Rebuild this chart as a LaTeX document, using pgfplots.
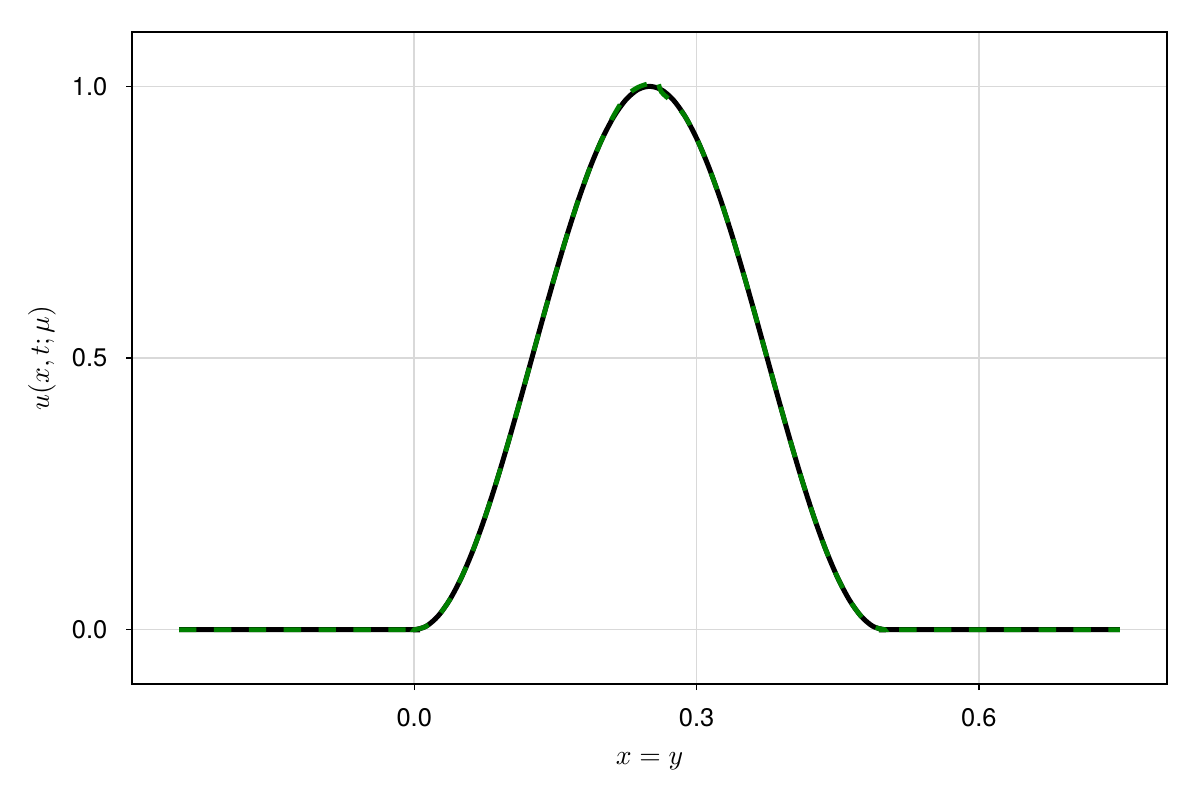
\documentclass[border=0pt]{standalone}
\usepackage{fontspec}
\setmainfont{TeX Gyre Heros}
\usepackage{pgfplots}
\pgfplotsset{compat=1.18}
\definecolor{mkgreen}{RGB}{0,128,0}
\begin{document}
\fontsize{9.2}{11}\selectfont
\begin{tikzpicture}
\path[use as bounding box] (-0.66in,-0.58in) rectangle (5.34in,3.42in);
\begin{axis}[
  at={(0,0)}, anchor=south west,
  scale only axis, width=5.175in, height=3.26in,
  xmin=-0.3, xmax=0.8, ymin=-0.1, ymax=1.1,
  xtick={0,0.3,0.6}, ytick={0,0.5,1},
  /pgf/number format/assume math mode=true,
  xticklabel style={/pgf/number format/fixed,/pgf/number format/fixed zerofill,/pgf/number format/precision=1, yshift=-3.5pt},
  yticklabel style={/pgf/number format/fixed,/pgf/number format/fixed zerofill,/pgf/number format/precision=1, xshift=-3.5pt},
  tick align=outside, major tick length=0.03in,
  tick style={black, line width=0.5pt},
  xtick pos=bottom, ytick pos=left,
  grid=major, grid style={line width=0.6pt, black!15},
  axis line style={line width=0.6pt},
  xlabel={$x = y$}, ylabel={$u(x,t;\mu)$},
  label style={font=\fontsize{10}{12}\selectfont},
  xlabel style={yshift=-3pt},
  ylabel style={yshift=-0.5pt},
  every tick label/.append style={font=\fontsize{9.2}{11}\selectfont},
]
\addplot[black, line width=1.8pt, smooth, tension=0.5] coordinates {
(-0.25,0) (-0.0125,0) (0,0)
(0.0125,0.006156) (0.025,0.024472) (0.0375,0.054497) (0.05,0.095492)
(0.0625,0.146447) (0.075,0.206107) (0.0875,0.273005) (0.1,0.345492)
(0.1125,0.421783) (0.125,0.5) (0.1375,0.578217) (0.15,0.654508)
(0.1625,0.726995) (0.175,0.793893) (0.1875,0.853553) (0.2,0.904508)
(0.2125,0.945503) (0.225,0.975528) (0.2375,0.993844) (0.25,1)
(0.2625,0.993844) (0.275,0.975528) (0.2875,0.945503) (0.3,0.904508)
(0.3125,0.853553) (0.325,0.793893) (0.3375,0.726995) (0.35,0.654508)
(0.3625,0.578217) (0.375,0.5) (0.3875,0.421783) (0.4,0.345492)
(0.4125,0.273005) (0.425,0.206107) (0.4375,0.146447) (0.45,0.095492)
(0.4625,0.054497) (0.475,0.024472) (0.4875,0.006156) (0.5,0) (0.5125,0)
(0.75,0)
};
\addplot[mkgreen, line width=1.7pt, dash pattern=on 6.3pt off 6.3pt, smooth, tension=0.5] coordinates {
(-0.25,0) (-0.0125,0) (0,0)
(0.0125,0.006156) (0.025,0.024472) (0.0375,0.054497) (0.05,0.095492)
(0.0625,0.146447) (0.075,0.206107) (0.0875,0.273005) (0.1,0.345492)
(0.1125,0.421783) (0.125,0.5) (0.1375,0.578217) (0.15,0.654508)
(0.1625,0.726995) (0.175,0.793893) (0.1875,0.853553) (0.2,0.904508)
(0.2125,0.948) (0.225,0.982) (0.2375,0.998) (0.25,1.006)
(0.2575,1.014) (0.2625,0.990) (0.275,0.970) (0.2875,0.945503) (0.3,0.904508)
(0.3125,0.853553) (0.325,0.793893) (0.3375,0.726995) (0.35,0.654508)
(0.3625,0.578217) (0.375,0.5) (0.3875,0.421783) (0.4,0.345492)
(0.4125,0.273005) (0.425,0.206107) (0.4375,0.146447) (0.45,0.095492)
(0.4625,0.054497) (0.475,0.024472) (0.4875,0.006156) (0.5,0) (0.5125,0)
(0.75,0)
};
\end{axis}
\end{tikzpicture}
\end{document}
